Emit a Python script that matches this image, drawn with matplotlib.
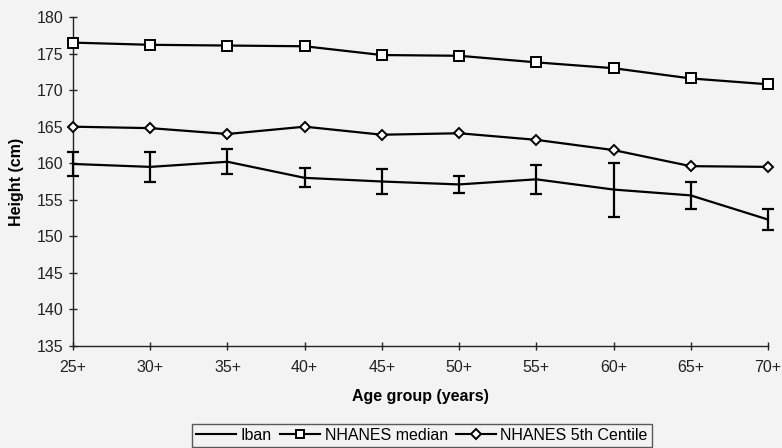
import matplotlib
matplotlib.use("Agg")
import matplotlib.pyplot as plt
from matplotlib.lines import Line2D

plt.rcParams['font.family'] = ['Liberation Sans', 'DejaVu Sans']

age_groups = ["25+", "30+", "35+", "40+", "45+", "50+", "55+", "60+", "65+", "70+"]
iban = [159.9, 159.5, 160.2, 158.0, 157.5, 157.1, 157.8, 156.4, 155.6, 152.3]
iban_err = [1.7, 2.1, 1.7, 1.3, 1.7, 1.2, 2.0, 3.7, 1.9, 1.5]
nhanes_median = [176.5, 176.2, 176.1, 176.0, 174.8, 174.7, 173.8, 173.0, 171.6, 170.8]
nhanes_5th = [165.0, 164.8, 164.0, 165.0, 163.9, 164.1, 163.2, 161.8, 159.6, 159.5]
y_ticks = [135, 140, 145, 150, 155, 160, 165, 170, 175, 180]

bg = '#f3f3f3'
fs = 11.5
fig = plt.figure(figsize=(7.82, 4.48), dpi=100, facecolor=bg)
ax = fig.add_axes([0.0934, 0.2277, 0.8886, 0.7343])
ax.set_facecolor(bg)

x = list(range(len(age_groups)))
eb = ax.errorbar(x, iban, yerr=iban_err, color='black', lw=1.6, capsize=4,
                 capthick=1.6, elinewidth=1.6, zorder=3)
for art in eb.lines[1] + eb.lines[2]:
    art.set_clip_on(False)
eb.lines[0].set_clip_on(False)
ax.plot(x, nhanes_median, color='black', lw=1.6, marker='s', markersize=6.5,
        markerfacecolor='white', markeredgecolor='black', markeredgewidth=1.4,
        zorder=3, clip_on=False)
ax.plot(x, nhanes_5th, color='black', lw=1.6, marker='D', markersize=5,
        markerfacecolor='white', markeredgecolor='black', markeredgewidth=1.4,
        zorder=3, clip_on=False)

ax.set_xlim(0, len(age_groups) - 1)
ax.set_ylim(135, 180)
ax.set_xticks(x)
ax.set_xticklabels(age_groups)
ax.set_yticks(y_ticks)
for s in ['top', 'right']:
    ax.spines[s].set_visible(False)
for s in ['left', 'bottom']:
    ax.spines[s].set_linewidth(1.0)
    ax.spines[s].set_color('#222222')
    ax.spines[s].set_clip_on(False)
ax.tick_params(axis='both', direction='inout', length=6, width=1.0, labelsize=fs,
               colors='#222222')
ax.tick_params(axis='x', pad=7)
ax.tick_params(axis='y', pad=4)

ax.set_xlabel("Age group (years)", fontsize=fs, fontweight='bold', labelpad=10)
ax.set_ylabel("Height (cm)", fontsize=fs, fontweight='bold', labelpad=9)

handles = [
    Line2D([], [], color='black', lw=1.5),
    Line2D([], [], color='black', lw=1.5, marker='s', markersize=6,
           markerfacecolor='white', markeredgewidth=1.4),
    Line2D([], [], color='black', lw=1.5, marker='D', markersize=5,
           markerfacecolor='white', markeredgewidth=1.4),
]
labels = ["Iban", "NHANES median", "NHANES 5th Centile"]
leg = fig.legend(handles, labels, loc='center', bbox_to_anchor=(0.5396, 0.029), ncol=3,
                 fontsize=fs, frameon=True, fancybox=False, edgecolor='#333333',
                 handlelength=2.5, handletextpad=0.3, columnspacing=0.5,
                 borderpad=0.25, borderaxespad=0)
leg.get_frame().set_linewidth(1.0)
leg.get_frame().set_facecolor(bg)

fig.savefig("out.png", dpi=100, facecolor=bg)
